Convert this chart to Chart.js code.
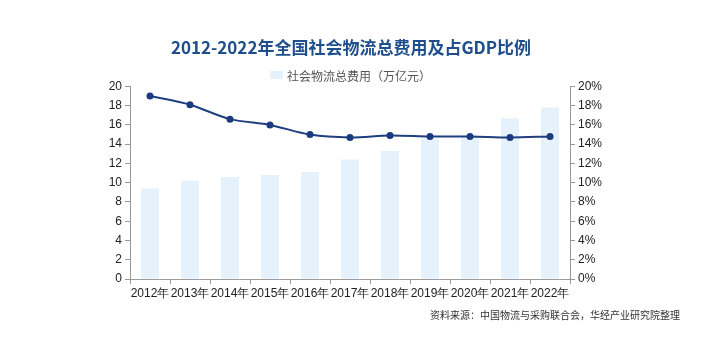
<!DOCTYPE html>
<html><head><meta charset="utf-8">
<script src="https://cdn.jsdelivr.net/npm/chart.js@4/dist/chart.umd.min.js"></script>
<style>
html,body{margin:0;padding:0;background:#fff;}
#wrap{position:relative;width:702px;height:351px;}
#src{position:absolute;right:22px;top:307px;font:10px "Noto Sans CJK SC",sans-serif;color:#333;}
#leg{position:absolute;left:270px;top:66px;height:18px;display:flex;align-items:center;font:12px "Noto Sans CJK SC",sans-serif;color:#555;white-space:nowrap;}
#leg i{display:inline-block;width:13px;height:8px;margin-right:4px;}
</style></head>
<body><div id="wrap"><canvas id="c" width="702" height="351"></canvas><div id="leg"><i id="legbox"></i><span id="legtxt"></span></div><div id="src">资料来源：中国物流与采购联合会，华经产业研究院整理</div></div>
<script>
const categories = ["2012年","2013年","2014年","2015年","2016年","2017年","2018年","2019年","2020年","2021年","2022年"];
const logisticsCost = [9.4, 10.2, 10.6, 10.8, 11.1, 12.4, 13.3, 14.6, 14.9, 16.7, 17.8];
const gdpShare = [19.0, 18.1, 16.6, 16.0, 15.0, 14.7, 14.9, 14.8, 14.8, 14.7, 14.8];
const leftTicks = [0,2,4,6,8,10,12,14,16,18,20];
const rightTicks = [0,2,4,6,8,10,12,14,16,18,20];
const barLabel = '社会物流总费用（万亿元）';
const barColor = '#e6f2fb';

document.getElementById('legbox').style.background = barColor;
document.getElementById('legtxt').textContent = barLabel;

const tickFont = {family:"'Liberation Sans', Arial, sans-serif", size:12};
new Chart(document.getElementById('c'), {
  data: {
    labels: categories,
    datasets: [
      {type:'line', label:'占GDP比例', data: gdpShare, yAxisID:'y1', borderColor:'#1f3f7f', backgroundColor:'#1a3a80',
       borderWidth:2, pointRadius:3.5, pointBackgroundColor:'#1a3a80', pointBorderWidth:0, tension:0.3, order:0},
      {type:'bar', label:barLabel, data: logisticsCost, yAxisID:'y', backgroundColor:barColor,
       barPercentage:0.45, categoryPercentage:1, order:1}
    ]
  },
  options: {
    responsive:false, animation:false,
    layout:{padding:{left:0,right:0,top:0,bottom:0}},
    plugins:{
      title:{display:true, text:'2012-2022年全国社会物流总费用及占GDP比例', color:'#1f4e8c',
        font:{family:"'Noto Sans CJK SC', sans-serif", size:17, weight:'bold'}, padding:{top:37,bottom:29}},
      legend:{display:false},
      tooltip:{enabled:false}
    },
    scales:{
      x:{grid:{drawOnChartArea:false, drawTicks:true, tickLength:5, offset:true, color:'#999'},
         border:{color:'#999'}, ticks:{color:'#222', font:tickFont, maxRotation:0, autoSkip:false, padding:2},
         afterFit:(s)=>{s.height=72;}},
      y:{position:'left', min:0, max:20, afterBuildTicks:(s)=>{s.ticks=leftTicks.map(v=>({value:v}));},
         grid:{drawOnChartArea:false, tickLength:5, color:'#999'}, border:{color:'#999'},
         ticks:{color:'#222', font:tickFont, padding:3}, afterFit:(s)=>{s.width=130;}},
      y1:{position:'right', min:0, max:20, afterBuildTicks:(s)=>{s.ticks=rightTicks.map(v=>({value:v}));},
         grid:{drawOnChartArea:false, tickLength:5, color:'#999'}, border:{color:'#999'},
         ticks:{color:'#222', font:tickFont, padding:3, callback:(v)=>v+'%'}, afterFit:(s)=>{s.width=132;}}
    }
  }
});
</script></body></html>
